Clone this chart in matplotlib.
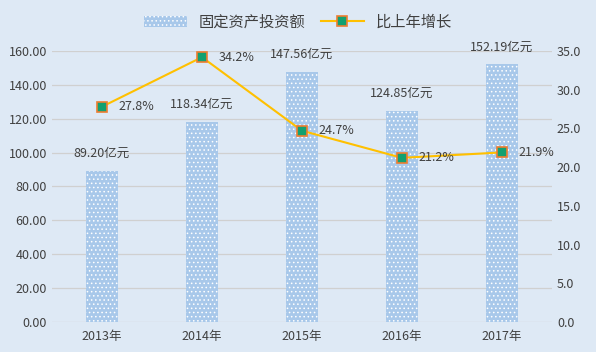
import numpy as np
import matplotlib
matplotlib.use('Agg')
import matplotlib.pyplot as plt

plt.rcParams['font.family'] = ['Noto Sans CJK SC', 'DejaVu Sans']
plt.rcParams['hatch.color'] = 'white'
plt.rcParams['hatch.linewidth'] = 0.6

years = ['2013年', '2014年', '2015年', '2016年', '2017年']
invest = [89.20, 118.34, 147.56, 124.85, 152.19]
growth = [27.8, 34.2, 24.7, 21.2, 21.9]

bg = '#dee9f5'
txt = '#404040'

fig = plt.figure(figsize=(5.96, 3.52), dpi=100, facecolor=bg)
ax = fig.add_axes([0.0872, 0.0852, 0.839, 0.770])
ax.set_facecolor(bg)
ax2 = ax.twinx()

x = np.arange(len(years))
bars = ax.bar(x, invest, width=0.32, color='#a8c8ea', edgecolor='white',
              linewidth=0, hatch='....', label='固定资产投资额', zorder=2)
ax.set_ylim(0, 160)
ax.set_yticks(np.arange(0, 161, 20))
ax.set_yticklabels(['%.2f' % v for v in np.arange(0, 161, 20)])
ax.set_xlim(-0.5, 4.5)
ax.set_xticks(x)
ax.set_xticklabels(years)
ax.grid(axis='y', color='#d0d0d0', linewidth=0.9, zorder=0)
ax.set_axisbelow(True)

# bar value labels, about 17 px above the bar top
for xi, v in zip(x, invest):
    ax.annotate('%.2f亿元' % v, (xi, v), xytext=(0, 12.5),
                textcoords='offset points', ha='center', va='center',
                fontsize=9, color=txt)

line, = ax2.plot(x, growth, color='#ffc000', linewidth=1.5, marker='s',
                 markersize=7, markerfacecolor='#12a070',
                 markeredgecolor='#ed7d31', markeredgewidth=1.2,
                 label='比上年增长', zorder=3)
ax2.set_ylim(0, 35)
ax2.set_yticks(np.arange(0, 36, 5))
ax2.set_yticklabels(['%.1f' % v for v in np.arange(0, 36, 5)])

for xi, g in zip(x, growth):
    ax2.annotate('%.1f%%' % g, (xi, g), xytext=(12, 0),
                 textcoords='offset points', ha='left', va='center',
                 fontsize=9, color=txt)

for a in (ax, ax2):
    for s in a.spines.values():
        s.set_visible(False)
    a.tick_params(length=0, labelsize=9, labelcolor=txt)
ax.tick_params(axis='x', pad=6)

fig.legend(handles=[bars, line], loc='upper center', ncol=2,
           bbox_to_anchor=(0.5, 1.0), frameon=False, fontsize=11,
           labelcolor=txt, handlelength=2.8, columnspacing=1.0)

fig.savefig('out.png', dpi=100, facecolor=bg)
